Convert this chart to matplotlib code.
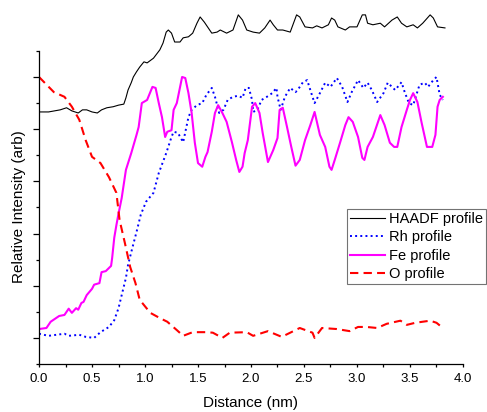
import numpy as np
import matplotlib
matplotlib.use("Agg")
import matplotlib.pyplot as plt
from matplotlib.ticker import NullFormatter

plt.rcParams['font.family'] = ['Liberation Sans', 'DejaVu Sans']

# HAADF profile
haadf_x = [0.00, 0.09, 0.20, 0.26, 0.31, 0.37, 0.41, 0.45, 0.50, 0.55, 0.59, 0.64, 0.70, 0.75,
           0.80, 0.82, 0.84, 0.87, 0.89, 0.92, 0.95, 0.99, 1.02, 1.08, 1.14, 1.17, 1.20, 1.22,
           1.25, 1.28, 1.33, 1.36, 1.41, 1.45, 1.49, 1.52, 1.56, 1.59, 1.63, 1.68, 1.71, 1.77,
           1.83, 1.88, 1.92, 1.96, 2.02, 2.08, 2.13, 2.18, 2.21, 2.25, 2.30, 2.37, 2.43, 2.46,
           2.51, 2.58, 2.62, 2.67, 2.73, 2.76, 2.79, 2.82, 2.89, 2.93, 3.00, 3.05, 3.08, 3.10,
           3.15, 3.22, 3.26, 3.33, 3.38, 3.42, 3.47, 3.53, 3.57, 3.62, 3.69, 3.72, 3.76, 3.83]
haadf_y = [4.33, 4.33, 4.37, 4.41, 4.35, 4.31, 4.37, 4.37, 4.33, 4.31, 4.37, 4.41, 4.43, 4.46,
           4.48, 4.60, 4.75, 4.89, 5.00, 5.10, 5.19, 5.29, 5.27, 5.36, 5.52, 5.65, 5.86, 5.90,
           5.84, 5.67, 5.67, 5.75, 5.77, 5.84, 6.03, 6.15, 6.05, 5.96, 5.84, 5.86, 5.90, 5.84,
           5.90, 6.19, 6.09, 5.90, 5.86, 5.84, 5.94, 6.09, 6.00, 5.90, 5.90, 5.86, 6.19, 6.15,
           5.96, 5.94, 5.98, 5.94, 6.00, 6.13, 6.09, 5.96, 5.90, 5.96, 5.96, 6.19, 6.19, 6.03,
           6.00, 6.03, 5.96, 6.09, 6.15, 6.03, 5.96, 6.00, 5.94, 6.03, 6.19, 6.13, 5.96, 5.94]

# Rh profile
rh_x = [0.00, 0.09, 0.24, 0.28, 0.38, 0.44, 0.52, 0.58, 0.66, 0.71, 0.75, 0.78, 0.82, 0.84,
        0.88, 0.92, 0.96, 1.01, 1.08, 1.13, 1.20, 1.25, 1.27, 1.31, 1.36, 1.41, 1.44, 1.49,
        1.54, 1.58, 1.63, 1.66, 1.70, 1.74, 1.78, 1.83, 1.88, 1.92, 1.95, 1.98, 2.01, 2.02,
        2.06, 2.10, 2.15, 2.20, 2.24, 2.25, 2.28, 2.32, 2.37, 2.42, 2.44, 2.49, 2.53, 2.58,
        2.60, 2.65, 2.70, 2.75, 2.81, 2.86, 2.91, 2.95, 3.01, 3.06, 3.10, 3.14, 3.19, 3.25,
        3.29, 3.36, 3.42, 3.45, 3.49, 3.53, 3.59, 3.64, 3.67, 3.72, 3.75, 3.78, 3.81]
rh_y = [0.08, 0.04, 0.08, 0.04, 0.06, 0.02, 0.00, 0.11, 0.21, 0.34, 0.57, 0.82, 1.15, 1.40,
        1.72, 2.03, 2.36, 2.61, 2.78, 3.16, 3.54, 3.85, 3.95, 3.93, 3.75, 4.23, 4.37, 4.46,
        4.50, 4.66, 4.79, 4.62, 4.31, 4.37, 4.56, 4.62, 4.64, 4.60, 4.79, 4.79, 4.56, 4.33,
        4.37, 4.56, 4.62, 4.69, 4.79, 4.62, 4.37, 4.62, 4.79, 4.71, 4.75, 4.90, 4.94, 4.62,
        4.50, 4.69, 4.89, 4.81, 4.98, 4.81, 4.52, 4.71, 4.94, 4.79, 4.89, 4.75, 4.52, 4.69,
        4.89, 4.75, 4.90, 4.71, 4.50, 4.46, 4.85, 4.89, 4.81, 4.94, 5.00, 4.66, 4.56]

# Fe profile
fe_x = [0.00, 0.07, 0.11, 0.19, 0.24, 0.28, 0.31, 0.35, 0.37, 0.40, 0.42, 0.45, 0.50, 0.52,
        0.57, 0.59, 0.63, 0.68, 0.69, 0.71, 0.73, 0.75, 0.78, 0.82, 0.87, 0.92, 0.94, 0.97,
        1.02, 1.07, 1.10, 1.13, 1.16, 1.19, 1.21, 1.25, 1.27, 1.30, 1.35, 1.38, 1.41, 1.44,
        1.47, 1.50, 1.54, 1.57, 1.59, 1.63, 1.66, 1.69, 1.73, 1.77, 1.82, 1.86, 1.89, 1.92,
        1.94, 1.97, 2.01, 2.04, 2.08, 2.11, 2.16, 2.21, 2.25, 2.27, 2.30, 2.34, 2.38, 2.42,
        2.46, 2.51, 2.56, 2.60, 2.65, 2.70, 2.74, 2.76, 2.79, 2.84, 2.89, 2.92, 2.96, 3.01,
        3.05, 3.07, 3.10, 3.15, 3.22, 3.26, 3.31, 3.35, 3.38, 3.42, 3.47, 3.50, 3.53, 3.57,
        3.61, 3.66, 3.71, 3.74, 3.76, 3.78, 3.81]
fe_y = [0.17, 0.19, 0.31, 0.42, 0.44, 0.56, 0.48, 0.57, 0.54, 0.67, 0.69, 0.82, 0.94, 1.02,
        1.05, 1.26, 1.28, 1.38, 1.53, 1.92, 2.16, 2.38, 2.68, 3.22, 3.54, 3.89, 4.04, 4.50,
        4.56, 4.81, 4.79, 4.50, 4.23, 3.85, 3.95, 3.98, 4.37, 4.50, 5.00, 4.98, 4.69, 4.31,
        3.74, 3.35, 3.28, 3.47, 3.56, 3.95, 4.31, 4.46, 4.31, 4.14, 3.75, 3.41, 3.18, 3.28,
        3.54, 3.79, 4.43, 4.50, 4.31, 3.93, 3.37, 3.60, 3.83, 4.37, 4.41, 4.04, 3.66, 3.30,
        3.41, 3.79, 4.08, 4.33, 3.89, 3.66, 3.28, 3.22, 3.41, 3.74, 4.08, 4.23, 4.14, 3.85,
        3.45, 3.41, 3.66, 3.85, 4.27, 4.08, 3.74, 3.66, 3.66, 4.04, 4.37, 4.56, 4.69, 4.52,
        4.12, 3.66, 3.66, 3.89, 4.43, 4.56, 4.62]

# O profile
o_x = [0.00, 0.14, 0.24, 0.31, 0.38, 0.44, 0.50, 0.58, 0.66, 0.73, 0.76, 0.81, 0.86, 0.91,
       0.95, 1.05, 1.14, 1.21, 1.30, 1.36, 1.45, 1.58, 1.64, 1.73, 1.80, 1.96, 2.02, 2.16,
       2.29, 2.37, 2.46, 2.58, 2.60, 2.67, 2.81, 2.93, 3.01, 3.09, 3.19, 3.28, 3.41, 3.47,
       3.55, 3.69, 3.75, 3.81]
o_y = [5.00, 4.71, 4.62, 4.43, 4.18, 3.79, 3.47, 3.35, 3.08, 2.78, 2.26, 1.82, 1.36, 1.05,
       0.73, 0.48, 0.38, 0.31, 0.15, 0.04, 0.11, 0.11, 0.10, 0.00, 0.10, 0.11, 0.04, 0.13,
       0.02, 0.10, 0.19, 0.10, 0.00, 0.19, 0.17, 0.13, 0.21, 0.21, 0.19, 0.27, 0.33, 0.25,
       0.29, 0.33, 0.29, 0.19]

xtick_vals = [0.0, 0.5, 1.0, 1.5, 2.0, 2.5, 3.0, 3.5, 4.0]
xtick_labels = ["0.0", "0.5", "1.0", "1.5", "2.0", "2.5", "3.0", "3.5", "4.0"]

fig = plt.figure(figsize=(4.87, 4.12), dpi=100)
ax = fig.add_axes([0.0801, 0.1165, 0.8706, 0.8835])

ax.plot(haadf_x, haadf_y, color='black', lw=0.8, label='HAADF profile')
ax.plot(rh_x, rh_y, color='#0000ff', lw=1.4, linestyle=':', label='Rh profile')
ax.plot(fe_x, fe_y, color='#ff00ff', lw=1.5, label='Fe profile')
ax.plot(o_x, o_y, color='#ff0000', lw=1.5, linestyle='--', dashes=(4, 2.5), label='O profile')

ax.set_xlim(0, 4.0)
ax.set_ylim(-0.5, 6.475)
ax.spines['top'].set_visible(False)
ax.spines['right'].set_visible(False)
ax.spines['left'].set_bounds(-0.5, 5.5)
for s in ['left', 'bottom']:
    ax.spines[s].set_linewidth(0.9)

ax.set_xticks(xtick_vals)
ax.set_xticklabels(xtick_labels)
ax.set_xticks(np.arange(0.25, 4.0, 0.5), minor=True)
ax.set_yticks(np.arange(0, 5.01, 1))
ax.set_yticks(np.arange(-0.5, 5.51, 1), minor=True)
ax.yaxis.set_major_formatter(NullFormatter())
ax.tick_params(axis='x', which='both', direction='out', length=2.3, width=0.9,
               labelsize=9.5, pad=4)
ax.tick_params(axis='y', which='major', direction='out', length=4.5, width=0.9)
ax.tick_params(axis='y', which='minor', direction='out', length=2.5, width=0.9)

ax.set_xlabel('Distance (nm)', fontsize=11, labelpad=8)
ax.set_ylabel('Relative Intensity (arb)', fontsize=11)
# centre the label on the drawn part of the y spine
ax.yaxis.set_label_coords(-0.031, 0.431)

leg = ax.legend(loc='upper left', bbox_to_anchor=(347 / 487, 1 - 209 / 412),
                bbox_transform=fig.transFigure, fontsize=10.5, frameon=True,
                fancybox=False, framealpha=1, edgecolor='0.45', borderpad=0.2,
                labelspacing=0.3, handlelength=2.4, handletextpad=0.3,
                borderaxespad=0)
leg.get_frame().set_linewidth(0.8)

fig.savefig('out.png', dpi=100)
